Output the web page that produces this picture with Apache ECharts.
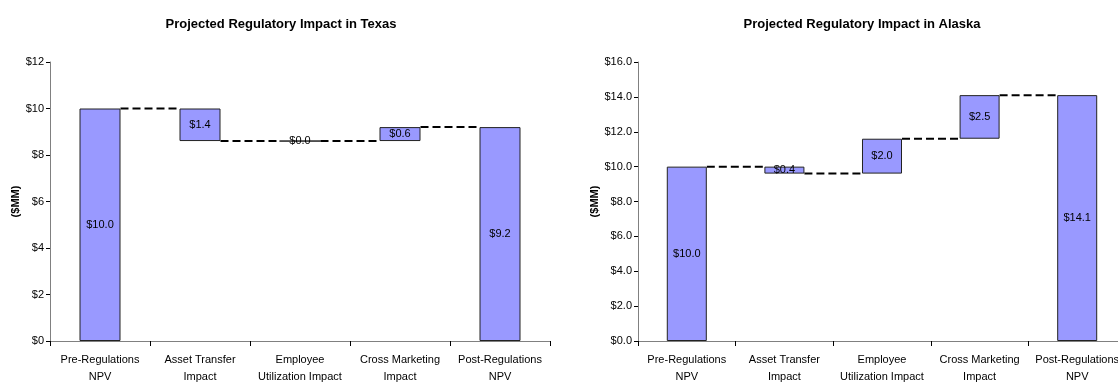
<!DOCTYPE html>
<html>
<head>
<meta charset="utf-8">
<script src="https://cdn.jsdelivr.net/npm/echarts@6/dist/echarts.min.js"></script>
<style>
  html, body { margin: 0; padding: 0; background: #fff; overflow: hidden; }
  #chart { width: 1118px; height: 383px; }
</style>
</head>
<body>
<div id="chart"></div>
<script>
// categories shared by both waterfalls
const categories = [
  'Pre-Regulations\nNPV',
  'Asset Transfer\nImpact',
  'Employee\nUtilization Impact',
  'Cross Marketing\nImpact',
  'Post-Regulations\nNPV',
]

// first and last are totals, middle ones are changes ($MM)
const texasSteps = [10.0, -1.4, 0.0, 0.6, 9.2]
const alaskaSteps = [10.0, -0.4, 2.0, 2.5, 14.1]

// y axis ticks [min, max, interval]
const texasTicks = [0, 12, 2]
const alaskaTicks = [0, 16, 2]

const barRatio = 0.41
const fontFamily = '"Liberation Sans", Arial, sans-serif'

function waterfall(steps) {
  const base = []
  const size = []
  const level = []
  let run = 0
  steps.forEach((v, i) => {
    if (i === 0 || i === steps.length - 1) {
      base.push(0)
      size.push(v)
      run = v
    } else {
      const next = Math.round((run + v) * 10) / 10
      base.push(Math.min(run, next))
      size.push(Math.abs(v))
      run = next
    }
    level.push(run)
  })
  // connector from each bar to the next, at the running total
  const links = level.slice(0, -1).map((y, i) => [i, y])
  return { base, size, links }
}

function xAxis(gridIndex) {
  return {
    type: 'category',
    gridIndex,
    data: categories,
    axisLine: { lineStyle: { color: '#808080', width: 1 } },
    axisTick: { show: true, length: 5, lineStyle: { color: '#000' } },
    axisLabel: { interval: 0, color: '#000', fontSize: 11, lineHeight: 17, margin: 10, fontFamily },
  }
}

function yAxis(gridIndex, ticks, decimals, nameGap) {
  return {
    type: 'value',
    gridIndex,
    min: ticks[0],
    max: ticks[1],
    interval: ticks[2],
    name: '($MM)',
    nameLocation: 'middle',
    nameRotate: 90,
    nameGap,
    nameTextStyle: { fontWeight: 'bold', fontSize: 11, color: '#000', fontFamily },
    axisLine: { show: true, lineStyle: { color: '#808080', width: 1 } },
    axisTick: { show: true, length: 4, lineStyle: { color: '#000' } },
    splitLine: { show: false },
    axisLabel: { color: '#000', fontSize: 11, margin: 6, fontFamily, formatter: v => '$' + v.toFixed(decimals) },
  }
}

function seriesFor(idx, wf) {
  return [
    {
      type: 'bar',
      xAxisIndex: idx,
      yAxisIndex: idx,
      stack: 'wf' + idx,
      barWidth: (barRatio * 100) + '%',
      itemStyle: { color: 'transparent', borderColor: 'transparent' },
      emphasis: { disabled: true },
      data: wf.base,
    },
    {
      type: 'bar',
      xAxisIndex: idx,
      yAxisIndex: idx,
      stack: 'wf' + idx,
      barWidth: (barRatio * 100) + '%',
      itemStyle: { color: '#9999ff', borderColor: '#222', borderWidth: 1 },
      label: {
        show: true,
        position: 'inside',
        color: '#000',
        fontSize: 11,
        fontFamily,
        formatter: p => '$' + p.value.toFixed(1),
      },
      data: wf.size,
    },
    {
      type: 'custom',
      xAxisIndex: idx,
      yAxisIndex: idx,
      z: 5,
      encode: { x: 0, y: 1 },
      renderItem: (params, api) => {
        const pt = api.coord([api.value(0), api.value(1)])
        const band = api.size([1, 0])[0]
        const half = band * barRatio / 2
        return {
          type: 'line',
          shape: { x1: pt[0] + half, y1: pt[1], x2: pt[0] + band - half, y2: pt[1] },
          style: { stroke: '#000', lineWidth: 2, lineDash: [8, 4] },
        }
      },
      data: wf.links,
    },
  ]
}

const texas = waterfall(texasSteps)
const alaska = waterfall(alaskaSteps)

const titleStyle = { fontSize: 13, fontWeight: 'bold', color: '#000', fontFamily }

const chart = echarts.init(document.getElementById('chart'))
chart.setOption({
  backgroundColor: '#fff',
  animation: false,
  title: [
    { text: 'Projected Regulatory Impact in Texas', left: 276, top: 13, textAlign: 'center', textStyle: titleStyle },
    { text: 'Projected Regulatory Impact in Alaska', left: 857, top: 13, textAlign: 'center', textStyle: titleStyle },
  ],
  grid: [
    { left: 50, top: 62, width: 500, height: 279, outerBoundsMode: 'none' },
    { left: 638, top: 62, width: 488, height: 279, outerBoundsMode: 'none' },
  ],
  xAxis: [xAxis(0), xAxis(1)],
  yAxis: [yAxis(0, texasTicks, 0, 28), yAxis(1, alaskaTicks, 1, 38)],
  series: [...seriesFor(0, texas), ...seriesFor(1, alaska)],
})
</script>
</body>
</html>
